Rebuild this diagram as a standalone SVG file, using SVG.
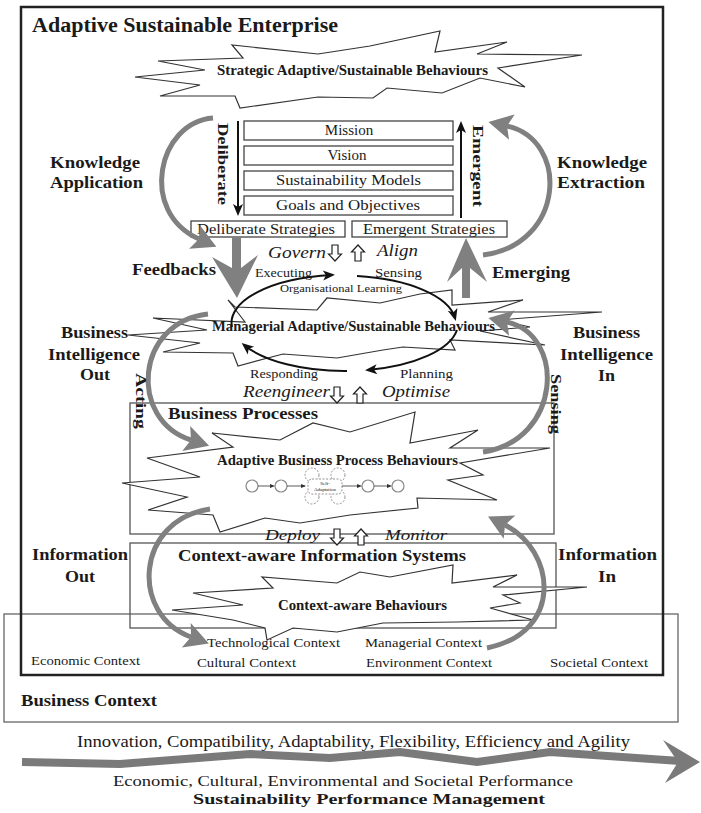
<svg xmlns="http://www.w3.org/2000/svg" width="701" height="813" viewBox="0 0 701 813">
<style>
.s{font-family:"Liberation Serif",Tinos,"Times New Roman",Times,serif;fill:#1a1a1a}
.b{font-weight:bold}
.it{font-style:italic}
.box{fill:none;stroke:#555;stroke-width:1.3}
.mbox{fill:#fff;stroke:#444;stroke-width:1.3}
.cloud{fill:#fff;stroke:#333;stroke-width:1.2;stroke-linejoin:miter}
.garc{fill:none;stroke:#808080;stroke-width:5}
.blk{fill:none;stroke:#111;stroke-width:2}
.hol{fill:#fff;stroke:#222;stroke-width:1.2}
.pc{fill:#fff;stroke:#888;stroke-width:1.2}
.dc{fill:none;stroke:#888;stroke-width:0.9;stroke-dasharray:2 1.5}
</style>
<defs>
<marker id="gh" markerUnits="userSpaceOnUse" markerWidth="32" markerHeight="32" viewBox="-8 -16 32 32" refX="0" refY="0" orient="auto">
<path d="M19,0 L-5,-13 L0,0 L-5,13 Z" fill="#808080"/>
</marker>
<marker id="bh" markerUnits="userSpaceOnUse" markerWidth="16" markerHeight="14" viewBox="-12 -7 16 14" refX="0" refY="0" orient="auto">
<path d="M3,0 L-9,-5 L-6,0 L-9,5 Z" fill="#111"/>
</marker>
<path id="hdown" class="hol" d="M-3,0 H3 V9 H6.5 L0,16 L-6.5,9 H-3 Z"/>
<path id="hup" class="hol" d="M-3,16 H3 V7 H6.5 L0,0 L-6.5,7 H-3 Z"/>
</defs>
<rect width="701" height="813" fill="#fff"/>

<g id="business-context">
<rect class="box" x="4" y="614" width="674" height="108" style="stroke:#666"/>
<text class="s b" x="21" y="706" font-size="16" textLength="136" lengthAdjust="spacingAndGlyphs">Business Context</text>
</g>
<g id="enterprise">
<rect x="21" y="7" width="642" height="668" fill="none" stroke="#222" stroke-width="2.5"/>
<text class="s b" x="32" y="32" font-size="20" textLength="306" lengthAdjust="spacingAndGlyphs">Adaptive Sustainable Enterprise</text>
</g>
<g id="business-processes">
<rect class="box" x="130" y="403" width="424" height="131"/>
</g>
<g id="context-is">
<rect class="box" x="130" y="543" width="426" height="85"/>
</g>

<g id="strategic">
<polygon class="cloud" points="135,77 205,70 158,61 243,58 232,45 318,54 370,46 440,31 435,52 507,42 477,54 582,55 498,68 525,87 480,78 442,93 387,88 373,98 318,97 240,108 235,96 160,96 200,85"/>
<text class="s b" x="217" y="75" font-size="14" textLength="271" lengthAdjust="spacingAndGlyphs">Strategic Adaptive/Sustainable Behaviours</text>
</g>
<g id="managerial">
<polygon class="cloud" points="128,335 200,343 163,352 233,353 238,366 283,354 337,358 383,350 403,347 455,350 450,340 545,345 480,331 530,327 498,320 602,312 488,312 523,300 452,305 452,290 420,294 380,303 327,298 317,310 235,307 228,300 245,322 153,318 207,330"/>
<text class="s b" x="212" y="331" font-size="14" textLength="283" lengthAdjust="spacingAndGlyphs">Managerial Adaptive/Sustainable Behaviours</text>
</g>
<g id="adaptive-bp">
<polygon class="cloud" points="122,483 200,477 147,458 233,447 212,433 280,440 313,423 350,432 415,412 410,443 478,430 450,448 550,448 460,463 483,475 448,480 497,500 417,498 418,508 350,515 300,523 265,518 220,532 213,515 148,510 187,497"/>
<text class="s b" x="217" y="465" font-size="14" textLength="241" lengthAdjust="spacingAndGlyphs">Adaptive Business Process Behaviours</text>
<g id="process-mini">
<circle class="pc" cx="252" cy="486" r="6"/>
<circle class="pc" cx="281" cy="486" r="6"/>
<circle class="pc" cx="368" cy="486" r="6"/>
<circle class="pc" cx="398" cy="486" r="6"/>
<circle class="dc" cx="312" cy="475" r="7"/>
<circle class="dc" cx="338" cy="475" r="7"/>
<circle class="dc" cx="312" cy="497" r="7"/>
<circle class="dc" cx="338" cy="497" r="7"/>
<rect class="dc" x="308" y="479" width="34" height="15" rx="4" style="fill:#fff"/>
<text class="s" x="325" y="485" font-size="5" text-anchor="middle">Self-</text>
<text class="s" x="325" y="491" font-size="5" text-anchor="middle">Adaptation</text>
<g stroke="#333" stroke-width="0.8">
<line x1="258" y1="486" x2="272" y2="486"/><line x1="287" y1="486" x2="305" y2="486"/><line x1="342" y1="486" x2="359" y2="486"/><line x1="374" y1="486" x2="389" y2="486"/>
</g>
<g fill="#333">
<polygon points="275,486 270,484 270,488"/><polygon points="306,486 301,484 301,488"/><polygon points="362,486 357,484 357,488"/><polygon points="392,486 387,484 387,488"/>
</g>
</g>
</g>
<g id="context-aware">
<polygon class="cloud" points="193,593 273,588 262,577 337,583 360,572 390,577 453,565 452,583 517,575 493,587 587,587 503,595 520,603 490,608 533,620 457,622 383,623 337,632 293,628 267,640 265,628 233,620 172,610 243,605"/>
<text class="s b" x="278" y="610" font-size="14" textLength="169" lengthAdjust="spacingAndGlyphs">Context-aware Behaviours</text>
</g>

<g id="mission"><rect class="mbox" x="244" y="121" width="209" height="19"/><text class="s" x="349" y="135" font-size="15" text-anchor="middle">Mission</text></g>
<g id="vision"><rect class="mbox" x="244" y="146" width="209" height="19"/><text class="s" x="347" y="160" font-size="15" text-anchor="middle">Vision</text></g>
<g id="sustainability-models"><rect class="mbox" x="244" y="171" width="209" height="19"/><text class="s" x="276" y="185" font-size="15" textLength="145" lengthAdjust="spacingAndGlyphs">Sustainability Models</text></g>
<g id="goals"><rect class="mbox" x="244" y="196" width="209" height="19"/><text class="s" x="276" y="210" font-size="15" textLength="144" lengthAdjust="spacingAndGlyphs">Goals and Objectives</text></g>
<g id="deliberate-strategies"><rect class="mbox" x="191" y="221" width="154" height="16"/><text class="s" x="197" y="234" font-size="14" textLength="138" lengthAdjust="spacingAndGlyphs">Deliberate Strategies</text></g>
<g id="emergent-strategies"><rect class="mbox" x="352" y="221" width="155" height="16"/><text class="s" x="363" y="234" font-size="14" textLength="132" lengthAdjust="spacingAndGlyphs">Emergent Strategies</text></g>

<g id="connectors">
<path class="garc" d="M213,118 C158,122 138,212 199,239" marker-end="url(#gh)"/>
<path class="garc" d="M483,255 C565,245 570,140 507,126" marker-end="url(#gh)"/>
<path class="garc" d="M208,314 C135,322 128,420 191,440" marker-end="url(#gh)"/>
<path class="garc" d="M483,452 C562,440 566,335 507,322" marker-end="url(#gh)"/>
<path class="garc" d="M210,509 C135,520 130,615 191,637" marker-end="url(#gh)"/>
<path class="garc" d="M487,648 C565,632 555,550 505,525" marker-end="url(#gh)"/>
<polygon fill="#808080" points="232,237 241,237 241,268 258,255 237,298 212,257 232,268"/>
<polygon fill="#808080" points="462,298 470,298 470,268 487,282 466,238 447,282 462,268"/>
<line class="blk" x1="238" y1="121" x2="238" y2="213" stroke-width="2.5" marker-end="url(#bh)"/>
<line class="blk" x1="461" y1="218" x2="461" y2="124" stroke-width="2.5" marker-end="url(#bh)"/>
<path class="blk" d="M232,327 A113,48 0 0 1 332,275" marker-end="url(#bh)"/>
<path class="blk" d="M357,276 A113,48 0 0 1 455,318" marker-end="url(#bh)"/>
<path class="blk" d="M457,330 A113,48 0 0 1 368,370" marker-end="url(#bh)"/>
<path class="blk" d="M347,371 A113,48 0 0 1 244,345" marker-end="url(#bh)"/>
<use href="#hdown" x="335" y="245"/>
<use href="#hup" x="358" y="245"/>
<use href="#hdown" x="337" y="387"/>
<use href="#hup" x="360" y="387"/>
<use href="#hdown" x="337" y="529"/>
<use href="#hup" x="361" y="529"/>
<path d="M22,762 L120,764 L250,754 L330,758 L400,752 L477,762 L550,752 L680,761" fill="none" stroke="#7a7a7a" stroke-width="8"/>
<polygon fill="#7a7a7a" points="663,740 700,762 665,783 678,762"/>
</g>

<g id="labels">
<text class="s b" x="218" y="164" font-size="15" text-anchor="middle" textLength="82" lengthAdjust="spacingAndGlyphs" transform="rotate(90 218 164)">Deliberate</text>
<text class="s b" x="473" y="166" font-size="15" text-anchor="middle" textLength="82" lengthAdjust="spacingAndGlyphs" transform="rotate(90 473 166)">Emergent</text>
<text class="s b" x="136" y="401" font-size="15" text-anchor="middle" textLength="56" lengthAdjust="spacingAndGlyphs" transform="rotate(90 136 401)">Acting</text>
<text class="s b" x="551" y="404" font-size="15" text-anchor="middle" textLength="60" lengthAdjust="spacingAndGlyphs" transform="rotate(90 551 404)">Sensing</text>

<text class="s b" x="50" y="168" font-size="16" textLength="90" lengthAdjust="spacingAndGlyphs">Knowledge</text>
<text class="s b" x="50" y="188" font-size="16" textLength="93" lengthAdjust="spacingAndGlyphs">Application</text>
<text class="s b" x="557" y="168" font-size="16" textLength="90" lengthAdjust="spacingAndGlyphs">Knowledge</text>
<text class="s b" x="557" y="188" font-size="16" textLength="88" lengthAdjust="spacingAndGlyphs">Extraction</text>
<text class="s b" x="132" y="275" font-size="16" textLength="84" lengthAdjust="spacingAndGlyphs">Feedbacks</text>
<text class="s b" x="492" y="278" font-size="16" textLength="78" lengthAdjust="spacingAndGlyphs">Emerging</text>
<text class="s b" x="61" y="338" font-size="16" textLength="67" lengthAdjust="spacingAndGlyphs">Business</text>
<text class="s b" x="48" y="360" font-size="16" textLength="92" lengthAdjust="spacingAndGlyphs">Intelligence</text>
<text class="s b" x="80" y="380" font-size="16" textLength="30" lengthAdjust="spacingAndGlyphs">Out</text>
<text class="s b" x="573" y="338" font-size="16" textLength="67" lengthAdjust="spacingAndGlyphs">Business</text>
<text class="s b" x="560" y="360" font-size="16" textLength="93" lengthAdjust="spacingAndGlyphs">Intelligence</text>
<text class="s b" x="598" y="381" font-size="16" textLength="17" lengthAdjust="spacingAndGlyphs">In</text>
<text class="s b" x="32" y="560" font-size="16" textLength="96" lengthAdjust="spacingAndGlyphs">Information</text>
<text class="s b" x="65" y="582" font-size="16" textLength="30" lengthAdjust="spacingAndGlyphs">Out</text>
<text class="s b" x="558" y="560" font-size="16" textLength="99" lengthAdjust="spacingAndGlyphs">Information</text>
<text class="s b" x="598" y="582" font-size="16" textLength="18" lengthAdjust="spacingAndGlyphs">In</text>

<text class="s it" x="268" y="258" font-size="16" textLength="58" lengthAdjust="spacingAndGlyphs">Govern</text>
<text class="s it" x="377" y="256" font-size="16" textLength="41" lengthAdjust="spacingAndGlyphs">Align</text>
<text class="s" x="255" y="277" font-size="13" textLength="57" lengthAdjust="spacingAndGlyphs">Executing</text>
<text class="s" x="375" y="277" font-size="13" textLength="47" lengthAdjust="spacingAndGlyphs">Sensing</text>
<text class="s" x="280" y="292" font-size="11" textLength="122" lengthAdjust="spacingAndGlyphs">Organisational  Learning</text>
<text class="s" x="250" y="378" font-size="13" textLength="68" lengthAdjust="spacingAndGlyphs">Responding</text>
<text class="s" x="400" y="378" font-size="13" textLength="53" lengthAdjust="spacingAndGlyphs">Planning</text>
<text class="s it" x="243" y="397" font-size="16" textLength="87" lengthAdjust="spacingAndGlyphs">Reengineer</text>
<text class="s it" x="382" y="397" font-size="16" textLength="68" lengthAdjust="spacingAndGlyphs">Optimise</text>
<text class="s b" x="168" y="419" font-size="16" textLength="150" lengthAdjust="spacingAndGlyphs">Business Processes</text>
<text class="s it" x="265" y="540" font-size="15" textLength="55" lengthAdjust="spacingAndGlyphs">Deploy</text>
<text class="s it" x="385" y="540" font-size="15" textLength="62" lengthAdjust="spacingAndGlyphs">Monitor</text>
<text class="s b" x="178" y="561" font-size="16" textLength="288" lengthAdjust="spacingAndGlyphs">Context-aware Information Systems</text>

<text class="s" x="207" y="647" font-size="13" textLength="133" lengthAdjust="spacingAndGlyphs">Technological Context</text>
<text class="s" x="365" y="647" font-size="13" textLength="117" lengthAdjust="spacingAndGlyphs">Managerial Context</text>
<text class="s" x="197" y="667" font-size="13" textLength="99" lengthAdjust="spacingAndGlyphs">Cultural Context</text>
<text class="s" x="366" y="667" font-size="13" textLength="126" lengthAdjust="spacingAndGlyphs">Environment Context</text>
<text class="s" x="550" y="667" font-size="13" textLength="98" lengthAdjust="spacingAndGlyphs">Societal Context</text>
<text class="s" x="31" y="665" font-size="13" textLength="109" lengthAdjust="spacingAndGlyphs">Economic Context</text>

<text class="s" x="77" y="747" font-size="17" textLength="553" lengthAdjust="spacingAndGlyphs">Innovation, Compatibility, Adaptability, Flexibility, Efficiency and Agility</text>
<text class="s" x="113" y="786" font-size="14.5" textLength="460" lengthAdjust="spacingAndGlyphs">Economic, Cultural, Environmental and Societal Performance</text>
<text class="s b" x="193" y="804" font-size="14.5" textLength="352" lengthAdjust="spacingAndGlyphs">Sustainability  Performance Management</text>
</g>
</svg>
